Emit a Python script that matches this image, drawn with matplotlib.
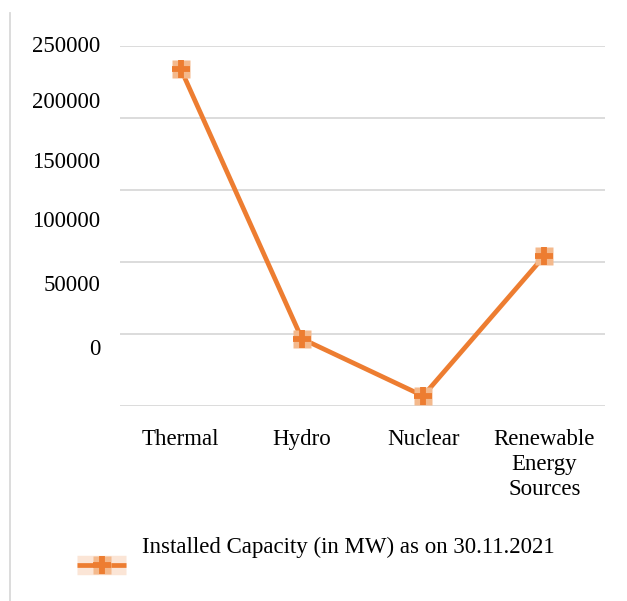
import numpy as np
import matplotlib.pyplot as plt
from matplotlib.lines import Line2D
from matplotlib.transforms import blended_transform_factory

plt.rcParams['font.family'] = ['Liberation Serif', 'DejaVu Serif']

# data
categories = ['Thermal', 'Hydro', 'Nuclear', 'Renewable\nEnergy\nSources']
capacity = [234058, 46512, 6780, 104031]
series_name = 'Installed Capacity (in MW) as on 30.11.2021'
grid_ticks = [0, 50000, 100000, 150000, 200000, 250000]
tick_text = ['250000', '200000', '150000', '100000', '50000', '0']
# where the (misaligned) y labels sit, as axes fraction
tick_text_pos = [0.997, 0.842, 0.675, 0.511, 0.335, 0.155]

dark = '#ED7D31'
light = '#F4B98C'
grid_col = '#D9D9D9'
fs = 16.5

fig = plt.figure(figsize=(6.27, 6.01), dpi=100)
ax = fig.add_axes([120/627, 1-405.7/601, 485/627, 360/601])

x = np.arange(len(categories))
ax.plot(x, capacity, color=dark, lw=3.4, zorder=3)
ax.plot(x, capacity, ls='none', marker='s', ms=13, mfc=light, mec='none', zorder=4)
ax.plot(x, capacity, ls='none', marker='+', ms=13, mew=4.2, mec=dark, zorder=5)

ax.set_xlim(-0.5, len(categories)-0.5)
ax.set_ylim(0, 250000)
ax.set_yticks(grid_ticks)
ax.set_yticklabels([])
ax.yaxis.grid(True, color=grid_col, lw=1.3)
ax.set_axisbelow(True)
ax.tick_params(axis='both', length=0)
for s in ax.spines.values():
    s.set_visible(False)

ax.set_xticks(x)
ax.set_xticklabels(categories, fontsize=fs, linespacing=1.25)
ax.tick_params(axis='x', pad=17)

tr = blended_transform_factory(fig.transFigure, ax.transAxes)
for t, p in zip(tick_text, tick_text_pos):
    ax.text(100/627, p, t, transform=tr, ha='right', va='center', fontsize=fs)

# left border of chart area
fig.add_artist(Line2D([10/627, 10/627], [0, 1-13/601], color=grid_col, lw=1.3))

# legend
fig.add_artist(Line2D([77/627, 126/627], [1-565/601]*2, color='#FBE5D6', lw=14, solid_capstyle='butt'))
fig.add_artist(Line2D([77/627, 126/627], [1-565/601]*2, color=dark, lw=3.4, solid_capstyle='butt'))
fig.add_artist(Line2D([101.5/627], [1-565/601], ls='none', marker='s', ms=13, mfc=light, mec='none'))
fig.add_artist(Line2D([101.5/627], [1-565/601], ls='none', marker='+', ms=13, mew=4.2, mec=dark))
fig.text(142/627, 1-547/601, series_name, ha='left', va='center', fontsize=fs)

fig.savefig('out.png', dpi=100)
